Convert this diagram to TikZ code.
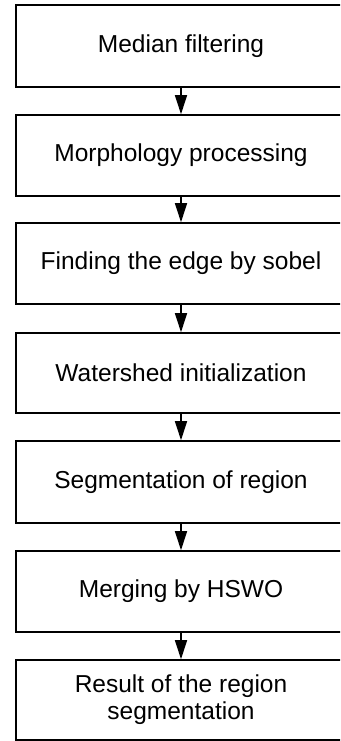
\documentclass[tikz,border=0pt]{standalone}
\usepackage{fontspec}
\setmainfont{Liberation Sans}
\usetikzlibrary{arrows.meta}

\tikzset{
  stepbox/.style={draw=black, line width=1.6pt, rectangle, minimum width=330pt,
    inner sep=0pt, align=center, font=\fontsize{24.5}{27}\selectfont},
  flow/.style={draw=black, line width=1.4pt, -{Triangle[length=19pt,width=12pt]}}
}

\begin{document}
\begin{tikzpicture}[x=1pt,y=-1pt]
  \useasboundingbox (0,0) rectangle (340,741);
  \clip (0,0) rectangle (340,741);
  \fill[white] (0,0) rectangle (340,741);

  % processing steps, top to bottom
  \node[stepbox, minimum height=82pt] (s1) at (181,46)  {Median filtering};
  \node[stepbox, minimum height=81pt] (s2) at (181,155.5) {Morphology processing};
  \node[stepbox, minimum height=81pt] (s3) at (181,263.5) {Finding the edge by sobel};
  \node[stepbox, minimum height=80pt] (s4) at (181,373) {Watershed initialization};
  \node[stepbox, minimum height=82pt] (s5) at (181,482) {Segmentation of region};
  \node[stepbox, minimum height=81pt] (s6) at (181,591.5) {Merging by HSWO};
  \node[stepbox, minimum height=80pt] (s7) at (181,700) {Result of the region\\segmentation};

  % connectors
  \draw[flow] (s1.south) -- (s2.north);
  \draw[flow] (s2.south) -- (s3.north);
  \draw[flow] (s3.south) -- (s4.north);
  \draw[flow] (s4.south) -- (s5.north);
  \draw[flow] (s5.south) -- (s6.north);
  \draw[flow] (s6.south) -- (s7.north);
\end{tikzpicture}
\end{document}
